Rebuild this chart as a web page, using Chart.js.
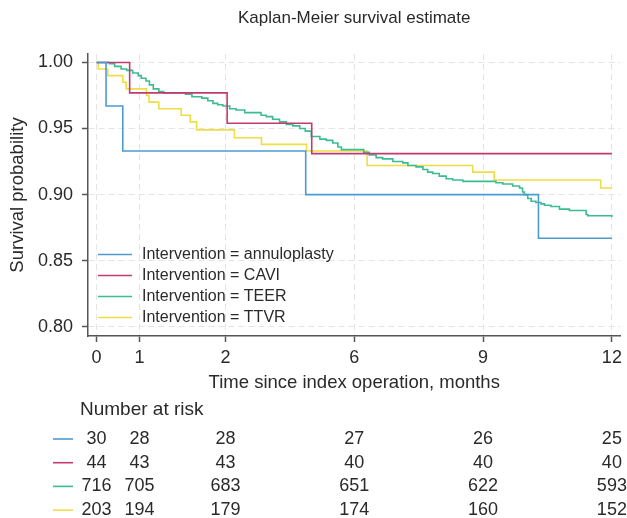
<!DOCTYPE html>
<html>
<head>
<meta charset="utf-8">
<title>Kaplan-Meier survival estimate</title>
<script src="https://cdn.jsdelivr.net/npm/chart.js@4.4.1/dist/chart.umd.min.js"></script>
<style>
  html, body { margin: 0; padding: 0; background: #fff; }
  #wrap { width: 627px; height: 518px; }
</style>
</head>
<body>
<div id="wrap"><canvas id="km" width="627" height="518"></canvas></div>
<script>
// Groups and colours
const groups = ['annuloplasty', 'CAVI', 'TEER', 'TTVR'];
const groupColors = ['#4b9bd3', '#c23b6f', '#3cbc92', '#eedd45'];

// Axis ticks (x positions in months, labels as printed on the figure)
const xTickValues = [0, 1, 3, 6, 9, 12];
const xTickLabels = ['0', '1', '2', '6', '9', '12'];
const yTickValues = [0.80, 0.85, 0.90, 0.95, 1.00];

// Kaplan-Meier steps: time (months) and survival after each step
const annTime = [0, 0.22, 0.61, 4.87, 10.29, 12];
const annSurv = [1, 0.967, 0.933, 0.900, 0.867, 0.867];

const caviTime = [0, 0.77, 3.04, 5.01, 12];
const caviSurv = [1, 0.977, 0.954, 0.931, 0.931];

const teerTime = [0, 0.30, 0.42, 0.57, 0.70, 0.84, 0.97, 1.04, 1.15, 1.23, 1.32, 1.45, 1.56,
  2.07, 2.22, 2.45, 2.59, 2.71, 2.82, 2.94, 3.10, 3.25, 3.45, 3.83, 3.95, 4.10, 4.26, 4.42,
  4.57, 4.73, 4.86, 5.00, 5.20, 5.35, 5.50, 5.62, 5.70, 6.22, 6.35, 6.51, 6.66, 6.90, 7.13,
  7.25, 7.44, 7.60, 7.71, 7.83, 7.98, 8.14, 8.29, 8.53, 9.30, 9.46, 9.69, 9.85, 9.92, 9.96,
  10.04, 10.12, 10.23, 10.35, 10.43, 10.58, 10.78, 11.01, 11.40, 11.44, 12];
const teerSurv = [1, 0.999, 0.997, 0.995, 0.994, 0.992, 0.990, 0.988, 0.986, 0.983, 0.980, 0.978, 0.977,
  0.976, 0.974, 0.973, 0.971, 0.969, 0.968, 0.967, 0.965, 0.964, 0.962, 0.960, 0.959, 0.957, 0.955, 0.953,
  0.952, 0.950, 0.948, 0.944, 0.942, 0.941, 0.939, 0.936, 0.934, 0.932, 0.930, 0.928, 0.927, 0.925, 0.924,
  0.922, 0.921, 0.919, 0.917, 0.916, 0.914, 0.912, 0.911, 0.910, 0.909, 0.908, 0.9065, 0.905, 0.902, 0.900,
  0.897, 0.895, 0.894, 0.893, 0.892, 0.891, 0.889, 0.888, 0.885, 0.884, 0.883];

const ttvrTime = [0, 0.04, 0.26, 0.61, 0.69, 1.16, 1.22, 1.45, 1.97, 2.18, 2.33, 3.21, 3.84, 4.89,
  6.30, 8.76, 9.26, 11.74, 12];
const ttvrSurv = [1, 0.995, 0.990, 0.985, 0.980, 0.975, 0.970, 0.965, 0.960, 0.955, 0.949, 0.943, 0.938, 0.933,
  0.922, 0.917, 0.911, 0.905, 0.905];

// Number at risk at each x tick
const riskTimes = [0, 1, 3, 6, 9, 12];
const annRisk = [30, 28, 28, 27, 26, 25];
const caviRisk = [44, 43, 43, 40, 40, 40];
const teerRisk = [716, 705, 683, 651, 622, 593];
const ttvrRisk = [203, 194, 179, 174, 160, 152];

const times = [annTime, caviTime, teerTime, ttvrTime];
const survs = [annSurv, caviSurv, teerSurv, ttvrSurv];
const risks = [annRisk, caviRisk, teerRisk, ttvrRisk];

const FONT = '"Liberation Sans", Arial, Helvetica, sans-serif';
const TEXT = '#2a2a2a';
Chart.defaults.font.family = FONT;
Chart.defaults.color = TEXT;

// legend inside plot + number-at-risk table under the x axis
const kmExtras = {
    id: 'kmExtras',
    afterDraw(chart) {
        const ctx = chart.ctx;
        const area = chart.chartArea;
        const xScale = chart.scales.x;
        ctx.save();

        // legend
        ctx.font = '16px ' + FONT;
        ctx.textBaseline = 'middle';
        ctx.textAlign = 'left';
        chart.data.datasets.forEach((ds, i) => {
            const y = area.bottom - 81.5 + i * 21;
            ctx.strokeStyle = ds.borderColor;
            ctx.lineWidth = 1.6;
            ctx.beginPath();
            ctx.moveTo(area.left + 10, y);
            ctx.lineTo(area.left + 44, y);
            ctx.stroke();
            ctx.fillStyle = TEXT;
            ctx.fillText(ds.label, area.left + 54, y);
        });

        // number at risk
        ctx.font = '19px ' + FONT;
        ctx.fillText('Number at risk', 80, 410);
        ctx.font = '18px ' + FONT;
        ctx.textAlign = 'center';
        risks.forEach((row, i) => {
            const y = 439 + i * 23.7;
            ctx.strokeStyle = groupColors[i];
            ctx.lineWidth = 1.6;
            ctx.beginPath();
            ctx.moveTo(53, y);
            ctx.lineTo(73, y);
            ctx.stroke();
            ctx.fillStyle = TEXT;
            row.forEach((n, j) => {
                ctx.fillText(String(n), xScale.getPixelForValue(riskTimes[j]), y);
            });
        });
        ctx.restore();
    }
};

const datasets = groups.map((g, i) => ({
    label: 'Intervention = ' + g,
    data: times[i].map((t, k) => ({ x: t, y: survs[i][k] })),
    borderColor: groupColors[i],
    backgroundColor: groupColors[i],
    borderWidth: 1.6,
    pointRadius: 0,
    stepped: true,
    fill: false
}));

new Chart(document.getElementById('km').getContext('2d'), {
    type: 'line',
    data: { datasets: datasets },
    options: {
        responsive: false,
        animation: false,
        events: [],
        layout: { padding: { left: 0, right: 6, top: 0, bottom: 123.6 } },
        plugins: {
            legend: { display: false },
            tooltip: { enabled: false },
            title: {
                display: true,
                text: 'Kaplan-Meier survival estimate',
                fullSize: false,
                color: TEXT,
                font: { size: 17, weight: 'normal' },
                padding: { top: 8, bottom: 25.6 }
            }
        },
        scales: {
            x: {
                type: 'linear',
                min: -0.2,
                max: 12.2,
                afterBuildTicks: (scale) => { scale.ticks = xTickValues.map(v => ({ value: v })); },
                afterFit: (scale) => { scale.height = 58.4; },
                ticks: {
                    autoSkip: false,
                    maxRotation: 0,
                    padding: 5,
                    color: TEXT,
                    font: { size: 18 },
                    callback: (value, index) => xTickLabels[index]
                },
                grid: {
                    color: '#e4e4e4',
                    lineWidth: 1,
                    tickLength: 6,
                    tickColor: '#555',
                    tickWidth: 1.5
                },
                border: { display: true, color: '#555', width: 1.5, dash: [6, 4] },
                title: {
                    display: true,
                    text: 'Time since index operation, months',
                    color: TEXT,
                    font: { size: 18.5 },
                    padding: { top: 0, bottom: 0 }
                }
            },
            y: {
                type: 'linear',
                min: 0.793,
                max: 1.0064,
                afterBuildTicks: (scale) => { scale.ticks = yTickValues.map(v => ({ value: v })); },
                afterFit: (scale) => { scale.width = 88; },
                ticks: {
                    padding: 9,
                    color: TEXT,
                    font: { size: 18 },
                    callback: (value) => Number(value).toFixed(2)
                },
                grid: {
                    color: '#e4e4e4',
                    lineWidth: 1,
                    tickLength: 6,
                    tickColor: '#555',
                    tickWidth: 1.5
                },
                border: { display: true, color: '#555', width: 1.5, dash: [6, 4] },
                title: {
                    display: true,
                    text: 'Survival probability',
                    color: TEXT,
                    font: { size: 18.5 },
                    padding: { top: 7, bottom: 0 }
                }
            }
        }
    },
    plugins: [kmExtras]
});
</script>
</body>
</html>
